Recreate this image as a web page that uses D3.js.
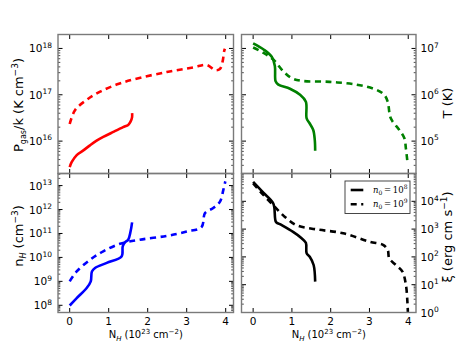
<!DOCTYPE html>
<html>
<head>
<meta charset="utf-8">
<script src="https://cdn.jsdelivr.net/npm/d3@7"></script>
<style>
  body { margin: 0; background: #fff; }
  svg { display: block; font-family: "DejaVu Sans", sans-serif; }
</style>
</head>
<body>
<div id="chart"></div>
<script>
// ---- data (N_H in 1e23 cm^-2) ----
const pgasSolidN = [0, 0.05, 0.18, 0.35, 0.52, 0.69, 0.86, 1.12, 1.37, 1.5, 1.56, 1.6, 1.6];
const pgasSolid  = [2.75e15, 3.5e15, 5.0e15, 6.3e15, 8.1e15, 1.02e16, 1.23e16, 1.58e16, 2.0e16, 2.24e16, 2.63e16, 3.3e16, 4.0e16];
const pgasDashN  = [0, 0.14, 0.44, 0.78, 1.2, 1.63, 2.49, 3.17, 3.51, 3.73, 3.85, 3.92, 3.96, 3.98];
const pgasDash   = [2.34e16, 4.7e16, 7.8e16, 1.17e17, 1.66e17, 2.14e17, 3.1e17, 3.9e17, 4.4e17, 3.4e17, 3.6e17, 5.2e17, 8.7e17, 9.8e17];

const tSolidN = [0, 0.27, 0.48, 0.56, 0.58, 0.65, 0.95, 1.21, 1.36, 1.38, 1.46, 1.55, 1.59, 1.6];
const tSolid  = [1.29e7, 9.5e6, 6.6e6, 4.2e6, 1.95e6, 1.66e6, 1.35e6, 1.0e6, 7.1e5, 3.1e5, 2.4e5, 1.74e5, 1.05e5, 6.2e4];
const tDashN  = [0, 0.26, 0.52, 0.78, 0.99, 1.25, 1.97, 2.66, 3.17, 3.38, 3.47, 3.55, 3.77, 3.9, 3.94, 3.98];
const tDash   = [1.05e7, 8.1e6, 5.75e6, 3.2e6, 2.3e6, 2.0e6, 1.9e6, 1.66e6, 1.29e6, 1.0e6, 7.1e5, 3.1e5, 1.74e5, 1.15e5, 6.9e4, 3.5e4];

const nhSolidN = [0, 0.18, 0.44, 0.54, 0.57, 0.65, 0.95, 1.33, 1.36, 1.42, 1.5, 1.56, 1.6];
const nhSolid  = [9.8e7, 2.0e8, 5.4e8, 1.0e9, 2.6e9, 3.6e9, 5.9e9, 1.1e10, 2.9e10, 4.3e10, 5.5e10, 1.2e11, 2.9e11];
const nhDashN  = [0, 0.18, 0.52, 0.86, 1.29, 1.8, 2.49, 3.0, 3.38, 3.47, 3.68, 3.85, 3.94, 3.99];
const nhDash   = [1.0e9, 2.6e9, 7.9e9, 1.8e10, 3.7e10, 5.5e10, 7.9e10, 1.2e11, 1.86e11, 7.1e11, 1.15e12, 2.1e12, 6.6e12, 1.5e13];

const xiSolidN = [0, 0.27, 0.52, 0.59, 0.69, 1.03, 1.25, 1.36, 1.38, 1.46, 1.56, 1.6];
const xiSolid  = [5.0e4, 2.0e4, 8.3e3, 1.8e3, 1.5e3, 790, 470, 320, 135, 102, 51, 12.9];
const xiDashN  = [0, 0.27, 0.56, 0.82, 1.12, 1.63, 2.32, 3.01, 3.35, 3.47, 3.51, 3.68, 3.85, 3.94, 3.98, 3.99];
const xiDash   = [4.4e4, 1.66e4, 6.3e3, 2.75e3, 1.38e3, 980, 710, 350, 270, 180, 89, 51, 29.5, 9.8, 2.2, 1.05];

const xTicks = [0, 1, 2, 3, 4];
const legendLabels = ["8", "9"]; // exponents of n_0

const width = 463, height = 348;
const svg = d3.select("#chart").append("svg")
  .attr("width", width)
  .attr("height", height);

// panel edges
const xL0 = 58, xL1 = 233.5, xR0 = 241.5, xR1 = 416;
const yT0 = 34.5, yT1 = 173.5, yB1 = 312.5;

function addPow(sel, base, exp, big, small) {
  sel.append("tspan").style("font-size", big + "px").text(base);
  sel.append("tspan").style("font-size", small + "px").attr("dy", -big * 0.45).text(exp);
}

function panel(o) {
  const x = d3.scaleLinear().domain([-0.3, 4.2]).range([o.left, o.right]);
  const y = d3.scaleLog().domain(o.yDomain).range([o.bottom, o.top]);
  const g = svg.append("g");

  const clipId = "clip" + o.id;
  svg.append("clipPath").attr("id", clipId)
    .append("rect")
    .attr("x", o.left).attr("y", o.top)
    .attr("width", o.right - o.left).attr("height", o.bottom - o.top);

  // smooth through the read-off points
  const line = d3.line().x(d => x(d[0])).y(d => y(d[1])).curve(d3.curveCatmullRom.alpha(0.5));
  o.series.forEach(s => {
    g.append("path")
      .datum(s.n.map((n, i) => [n, s.v[i]]))
      .attr("clip-path", `url(#${clipId})`)
      .attr("d", line)
      .attr("fill", "none")
      .attr("stroke", s.color)
      .attr("stroke-width", 2.6)
      .attr("stroke-dasharray", s.dashed ? "6,4.5" : null);
  });

  // x ticks (top and bottom, inward)
  xTicks.forEach(t => {
    const px = x(t);
    g.append("line").attr("x1", px).attr("x2", px).attr("y1", o.bottom).attr("y2", o.bottom - 4.5)
      .attr("stroke", "#000").attr("stroke-width", 1);
    g.append("line").attr("x1", px).attr("x2", px).attr("y1", o.top).attr("y2", o.top + 4.5)
      .attr("stroke", "#000").attr("stroke-width", 1);
    if (o.xLabels) {
      g.append("text").attr("x", px).attr("y", o.bottom + 12.5)
        .attr("text-anchor", "middle").style("font-size", "10.5px").text(t);
    }
  });

  // y ticks, major + minor, both sides
  const [lo, hi] = o.yDomain.map(Math.log10);
  for (let k = Math.floor(lo); k <= Math.ceil(hi); k++) {
    for (let m = 1; m <= 9; m++) {
      const v = m * Math.pow(10, k);
      if (Math.log10(v) < lo - 1e-9 || Math.log10(v) > hi + 1e-9) continue;
      const py = y(v), len = m === 1 ? 4.5 : 2.3;
      g.append("line").attr("x1", o.left).attr("x2", o.left + len).attr("y1", py).attr("y2", py)
        .attr("stroke", "#000").attr("stroke-width", m === 1 ? 1 : 0.7);
      g.append("line").attr("x1", o.right).attr("x2", o.right - len).attr("y1", py).attr("y2", py)
        .attr("stroke", "#000").attr("stroke-width", m === 1 ? 1 : 0.7);
    }
  }
  o.yTicks.forEach(e => {
    const py = y(Math.pow(10, e));
    const t = g.append("text").attr("y", py + 4);
    if (o.side === "left") t.attr("x", o.left - 6).attr("text-anchor", "end");
    else t.attr("x", o.right + 4.5).attr("text-anchor", "start");
    addPow(t, "10", e, 10.5, 7.5);
  });

  // frame
  g.append("rect")
    .attr("x", o.left).attr("y", o.top)
    .attr("width", o.right - o.left).attr("height", o.bottom - o.top)
    .attr("fill", "none").attr("stroke", "#7a7a7a").attr("stroke-width", 1.4);

  // y label
  const lx = o.side === "left" ? 23 : 452;
  const lab = svg.append("text")
    .attr("transform", `translate(${lx},${o.labelY}) rotate(-90)`)
    .attr("text-anchor", "middle")
    .style("font-size", "13px");
  o.ylabel(lab);

  if (o.xLabels) {
    const xl = svg.append("text")
      .attr("x", (o.left + o.right) / 2).attr("y", 338)
      .attr("text-anchor", "middle").style("font-size", "10px");
    xl.append("tspan").text("N");
    xl.append("tspan").attr("dy", 2.5).style("font-size", "7px").style("font-style", "italic").text("H");
    xl.append("tspan").attr("dy", -2.5).text(" (10");
    xl.append("tspan").attr("dy", -4.5).style("font-size", "7px").text("23");
    xl.append("tspan").attr("dy", 4.5).text(" cm");
    xl.append("tspan").attr("dy", -4.5).style("font-size", "7px").text("\u22122");
    xl.append("tspan").attr("dy", 4.5).text(")");
  }
  return { x, y };
}

// top left: P_gas/k
panel({
  id: "a", left: xL0, right: xL1, top: yT0, bottom: yT1,
  yDomain: [2e15, 2e18], yTicks: [16, 17, 18], side: "left", xLabels: false, labelY: 105,
  series: [
    { n: pgasSolidN, v: pgasSolid, color: "#ff0000", dashed: false },
    { n: pgasDashN, v: pgasDash, color: "#ff0000", dashed: true }
  ],
  ylabel: t => {
    t.append("tspan").text("P");
    t.append("tspan").attr("dy", 3).style("font-size", "8px").text("gas");
    t.append("tspan").attr("dy", -3).text("/k (K cm");
    t.append("tspan").attr("dy", -5.5).style("font-size", "9px").text("\u22123");
    t.append("tspan").attr("dy", 5.5).text(")");
  }
});

// top right: T
panel({
  id: "b", left: xR0, right: xR1, top: yT0, bottom: yT1,
  yDomain: [2e4, 2e7], yTicks: [5, 6, 7], side: "right", xLabels: false, labelY: 103,
  series: [
    { n: tSolidN, v: tSolid, color: "#008000", dashed: false },
    { n: tDashN, v: tDash, color: "#008000", dashed: true }
  ],
  ylabel: t => t.text("T (K)")
});

// bottom left: n_H
panel({
  id: "c", left: xL0, right: xL1, top: yT1, bottom: yB1,
  yDomain: [5e7, 3.2e13], yTicks: [8, 9, 10, 11, 12, 13], side: "left", xLabels: true, labelY: 236,
  series: [
    { n: nhSolidN, v: nhSolid, color: "#0000ff", dashed: false },
    { n: nhDashN, v: nhDash, color: "#0000ff", dashed: true }
  ],
  ylabel: t => {
    t.append("tspan").text("n");
    t.append("tspan").attr("dy", 3).style("font-size", "8px").style("font-style", "italic").text("H");
    t.append("tspan").attr("dy", -3).text(" (cm");
    t.append("tspan").attr("dy", -5.5).style("font-size", "9px").text("\u22123");
    t.append("tspan").attr("dy", 5.5).text(")");
  }
});

// bottom right: xi
panel({
  id: "d", left: xR0, right: xR1, top: yT1, bottom: yB1,
  yDomain: [1, 1e5], yTicks: [0, 1, 2, 3, 4], side: "right", xLabels: true, labelY: 237,
  series: [
    { n: xiSolidN, v: xiSolid, color: "#000", dashed: false },
    { n: xiDashN, v: xiDash, color: "#000", dashed: true }
  ],
  ylabel: t => {
    t.append("tspan").text("\u03be (erg cm s");
    t.append("tspan").attr("dy", -5.5).style("font-size", "9px").text("\u22121");
    t.append("tspan").attr("dy", 5.5).text(")");
  }
});

// legend
const leg = svg.append("g");
leg.append("rect").attr("x", 345).attr("y", 181).attr("width", 65).attr("height", 32.5)
  .attr("fill", "#fff").attr("stroke", "#333").attr("stroke-width", 0.9);
legendLabels.forEach((e, i) => {
  const ly = 190 + i * 14.3;
  leg.append("line").attr("x1", 350.7).attr("x2", 363.3).attr("y1", ly).attr("y2", ly)
    .attr("stroke", "#000").attr("stroke-width", 2.6)
    .attr("stroke-dasharray", i === 1 ? "6,4.5" : null);
  const t = leg.append("text").attr("x", 373).attr("y", ly + 3).style("font-size", "8.5px")
    .style("font-family", "'DejaVu Serif', serif");
  t.append("tspan").style("font-style", "italic").text("n");
  t.append("tspan").attr("dy", 2).style("font-size", "6px").text("0");
  t.append("tspan").attr("dy", -2).text("\u2009=\u200910");
  t.append("tspan").attr("dy", -4).style("font-size", "6px").text(e);
});
</script>
</body>
</html>
